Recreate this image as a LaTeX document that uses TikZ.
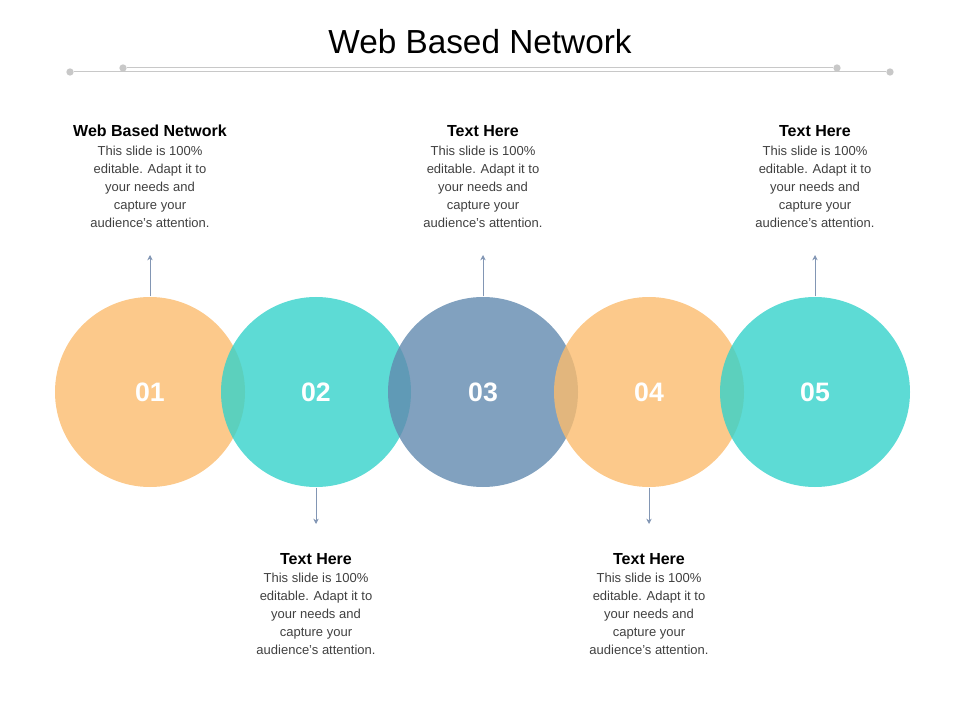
\documentclass[tikz,border=0pt]{standalone}
\usepackage{fontspec}
\setmainfont{Liberation Sans}
\usetikzlibrary{arrows.meta}
\definecolor{cOrange}{RGB}{251,188,110}
\definecolor{cTeal}{RGB}{52,210,202}
\definecolor{cSlate}{RGB}{98,138,175}
\definecolor{cArrow}{RGB}{130,150,180}
\definecolor{cLine}{RGB}{200,200,200}
\definecolor{cText}{RGB}{64,64,64}
\tikzset{every picture/.style={line width=0.75pt}}
\tikzset{
  bubble/.style={circle,minimum size=142.5pt,inner sep=0pt,fill opacity=0.8,text opacity=1,text=white,font=\bfseries\fontsize{20}{24}\selectfont},
  head/.style={font=\bfseries\fontsize{12}{14}\selectfont,text=black,inner sep=0pt},
  body/.style={font=\fontsize{9.75}{13.5}\selectfont,text=cText,align=center,inner sep=0pt},
  pointer/.style={draw=cArrow,line width=0.6pt,-{Stealth[length=4pt,width=4pt]}},
  dot/.style={circle,fill=cLine,inner sep=0pt,minimum size=5.5pt}
}
\newcommand{\slidetext}{This slide is 100\%\\editable. Adapt it to\\your needs and\\capture your\\audience's attention.}
\begin{document}
\begin{tikzpicture}[x=0.75pt,y=0.75pt,yscale=-1,xscale=1]
\useasboundingbox (0,0) rectangle (960,720);

% title and rule
\node (title) at (480,42) {\fontsize{25}{30}\selectfont Web Based Network};
\node[dot] (dl1) at (70,72) {};
\node[dot] (dr1) at (890,72) {};
\node[dot] (dl2) at (123,68) {};
\node[dot] (dr2) at (837,68) {};
\draw [cLine] (dl1) -- (dr1);
\draw [cLine] (dl2) -- (dr2);

% circles
\node[bubble,fill=cOrange] (c1) at (150,392) {01};
\node[bubble,fill=cTeal] (c2) at (316,392) {02};
\node[bubble,fill=cSlate] (c3) at (483,392) {03};
\node[bubble,fill=cOrange] (c4) at (649,392) {04};
\node[bubble,fill=cTeal] (c5) at (815,392) {05};

% upper texts
\node[head] (h1) at (150,131) {Web Based Network};
\node[body,anchor=north] (b1) at (150,146) {\slidetext};
\node[head] (h3) at (483,131) {Text Here};
\node[body,anchor=north] (b3) at (483,146) {\slidetext};
\node[head] (h5) at (815,131) {Text Here};
\node[body,anchor=north] (b5) at (815,146) {\slidetext};

% lower texts
\node[head] (h2) at (316,559) {Text Here};
\node[body,anchor=north] (b2) at (316,573) {\slidetext};
\node[head] (h4) at (649,559) {Text Here};
\node[body,anchor=north] (b4) at (649,573) {\slidetext};

% pointers
\coordinate (p1) at (150,255);
\coordinate (p3) at (483,255);
\coordinate (p5) at (815,255);
\coordinate (p2) at (316,524);
\coordinate (p4) at (649,524);
\draw [pointer] (c1.north) -- (p1);
\draw [pointer] (c3.north) -- (p3);
\draw [pointer] (c5.north) -- (p5);
\draw [pointer] (c2.south) -- (p2);
\draw [pointer] (c4.south) -- (p4);

\end{tikzpicture}
\end{document}
